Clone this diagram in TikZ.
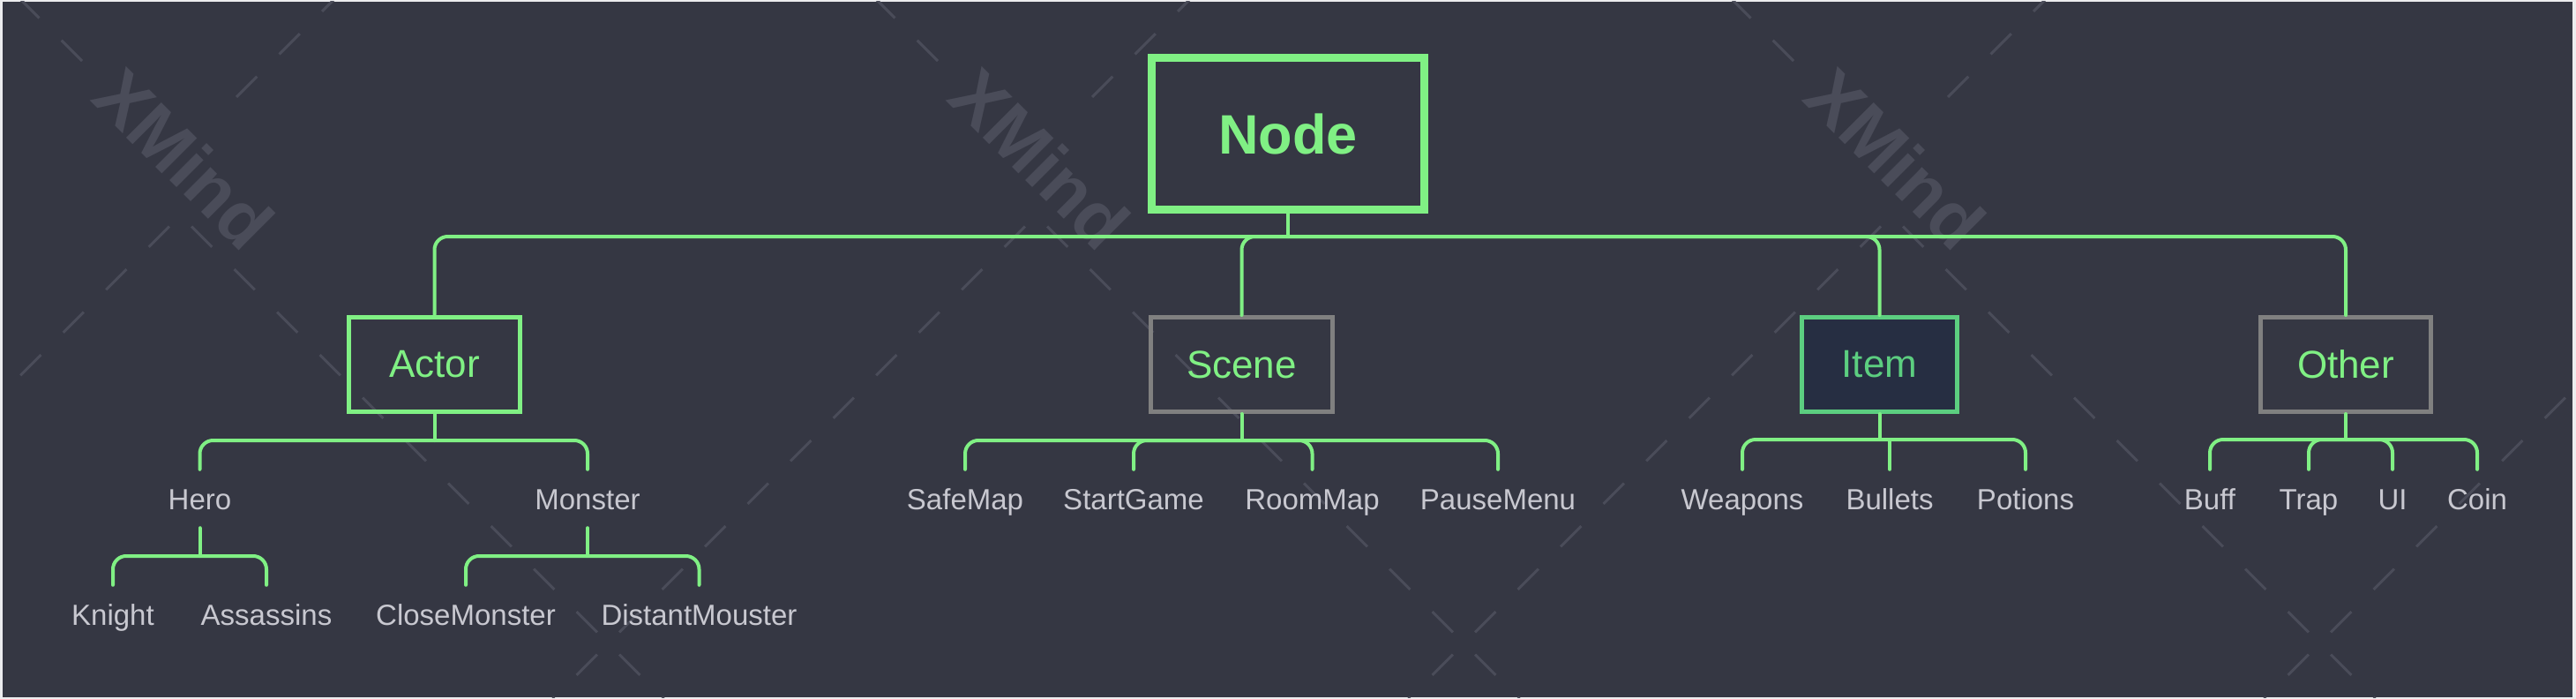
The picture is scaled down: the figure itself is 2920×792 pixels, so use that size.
\documentclass[tikz,border=0pt]{standalone}
\usepackage{fontspec}
\setmainfont{Liberation Sans}
\definecolor{bg}{RGB}{53,55,67}
\definecolor{framec}{RGB}{236,236,238}
\definecolor{wm}{RGB}{74,76,89}
\definecolor{grn}{RGB}{128,240,132}
\definecolor{itemgrn}{RGB}{92,206,128}
\definecolor{itemfill}{RGB}{38,46,66}
\definecolor{boxgray}{RGB}{128,128,128}
\definecolor{leaf}{RGB}{200,200,208}
\begin{document}
\begin{tikzpicture}[x=1pt,y=-1pt,
  conn/.style={draw=grn,line width=4pt,line cap=round,rounded corners=15pt},
  wmline/.style={draw=wm,line width=3pt,dash pattern=on 33pt off 35.6pt},
  wmtext/.style={text=wm,font=\fontsize{82}{82}\selectfont\bfseries,rotate=-45,inner sep=0pt},
  rootbox/.style={draw=grn,line width=9pt,minimum width=309pt,minimum height=172pt,inner sep=0pt,text=grn,font=\fontsize{63}{63}\selectfont\bfseries},
  topicbox/.style={draw=grn,line width=5pt,minimum height=107pt,inner sep=0pt,text=grn,font=\fontsize{44}{44}\selectfont},
  graybox/.style={topicbox,draw=boxgray},
  itembox/.style={topicbox,draw=itemgrn,fill=itemfill,text=itemgrn},
  leafnode/.style={inner xsep=0pt,inner ysep=21pt,text height=24pt,text depth=0pt,text=leaf,font=\fontsize{33}{33}\selectfont,anchor=base}
]
\useasboundingbox (0,0) rectangle (2920,792);
\fill[framec] (0,0) rectangle (2920,792);
\fill[bg] (3,2) rectangle (2916,790);
% watermark
\begin{scope}
\clip (3,2) rectangle (2916,790);
\foreach \k in {-1,0,1,2,3} {
  \pgfmathsetmacro\cx{689.5+970*\k}
  \draw[wmline,dash phase=50.8pt] (\cx,729) -- ++(-474,-474);
  \draw[wmline,dash phase=50.8pt] (\cx,729) -- ++(474,-474);
  \draw[wmline,dash phase=50.8pt] (\cx,729) -- ++(-120,120);
  \draw[wmline,dash phase=50.8pt] (\cx,729) -- ++(120,120);
  \pgfmathsetmacro\tx{209+970*\k}
  \draw[wmline] (\tx+59,110) -- ++(140,-140);
  \draw[wmline] (\tx-116,69) -- ++(-140,-140);
}
\foreach \k in {0,1,2} {
  \pgfmathsetmacro\tx{209+970*\k}
  \node[wmtext] (wm\k) at (\tx,180) {XMind};
}
\end{scope}
% nodes
\node[rootbox] (root) at (1460,151.5) {Node};
\node[topicbox,minimum width=194pt] (actor) at (492.5,412.5) {Actor};
\node[graybox,minimum width=206pt] (scene) at (1407.5,413) {Scene};
\node[itembox,minimum width=176pt] (item) at (2130.5,413) {Item};
\node[graybox,minimum width=193pt] (other) at (2659,413) {Other};

\node[leafnode] (hero) at (226.5,577) {Hero};
\node[leafnode] (monster) at (666,577) {Monster};
\node[leafnode] (knight) at (128,708) {Knight};
\node[leafnode] (assassins) at (302,708) {Assassins};
\node[leafnode] (closemonster) at (528,708) {CloseMonster};
\node[leafnode] (distantmouster) at (792.5,708) {DistantMouster};
\node[leafnode] (safemap) at (1094,577) {SafeMap};
\node[leafnode] (startgame) at (1285,577) {StartGame};
\node[leafnode] (roommap) at (1487.5,577) {RoomMap};
\node[leafnode] (pausemenu) at (1698,577) {PauseMenu};
\node[leafnode] (weapons) at (1975,577) {Weapons};
\node[leafnode] (bullets) at (2142,577) {Bullets};
\node[leafnode] (potions) at (2296,577) {Potions};
\node[leafnode] (buff) at (2505,577) {Buff};
\node[leafnode] (trap) at (2617,577) {Trap};
\node[leafnode] (ui) at (2712,577) {UI};
\node[leafnode] (coin) at (2808,577) {Coin};

% junctions
\coordinate (jR) at (1460,268);
\coordinate (jA) at (492.5,499);
\coordinate (jS) at (1407.5,499);
\coordinate (jI) at (2130.5,498);
\coordinate (jO) at (2659,498);
\coordinate (jH) at (226.5,630);
\coordinate (jM) at (666,630);

% connectors
\draw[conn] (root.south) -- (jR);
\foreach \c in {actor,scene,item,other}
  \draw[conn] (jR) -- (jR -| \c.north) -- (\c.north);

\draw[conn] (actor.south) -- (jA);
\foreach \c in {hero,monster}
  \draw[conn] (jA) -- (jA -| \c.north) -- (\c.north);

\draw[conn] (scene.south) -- (jS);
\foreach \c in {safemap,startgame,roommap,pausemenu}
  \draw[conn] (jS) -- (jS -| \c.north) -- (\c.north);

\draw[conn] (item.south) -- (jI);
\foreach \c in {weapons,potions}
  \draw[conn] (jI) -- (jI -| \c.north) -- (\c.north);
\draw[conn,sharp corners] (jI) -- (jI -| bullets.north) -- (bullets.north);

\draw[conn] (other.south) -- (jO);
\foreach \c in {buff,trap,ui,coin}
  \draw[conn] (jO) -- (jO -| \c.north) -- (\c.north);

\draw[conn] (hero.south) -- (jH);
\foreach \c in {knight,assassins}
  \draw[conn] (jH) -- (jH -| \c.north) -- (\c.north);

\draw[conn] (monster.south) -- (jM);
\foreach \c in {closemonster,distantmouster}
  \draw[conn] (jM) -- (jM -| \c.north) -- (\c.north);
\end{tikzpicture}
\end{document}
